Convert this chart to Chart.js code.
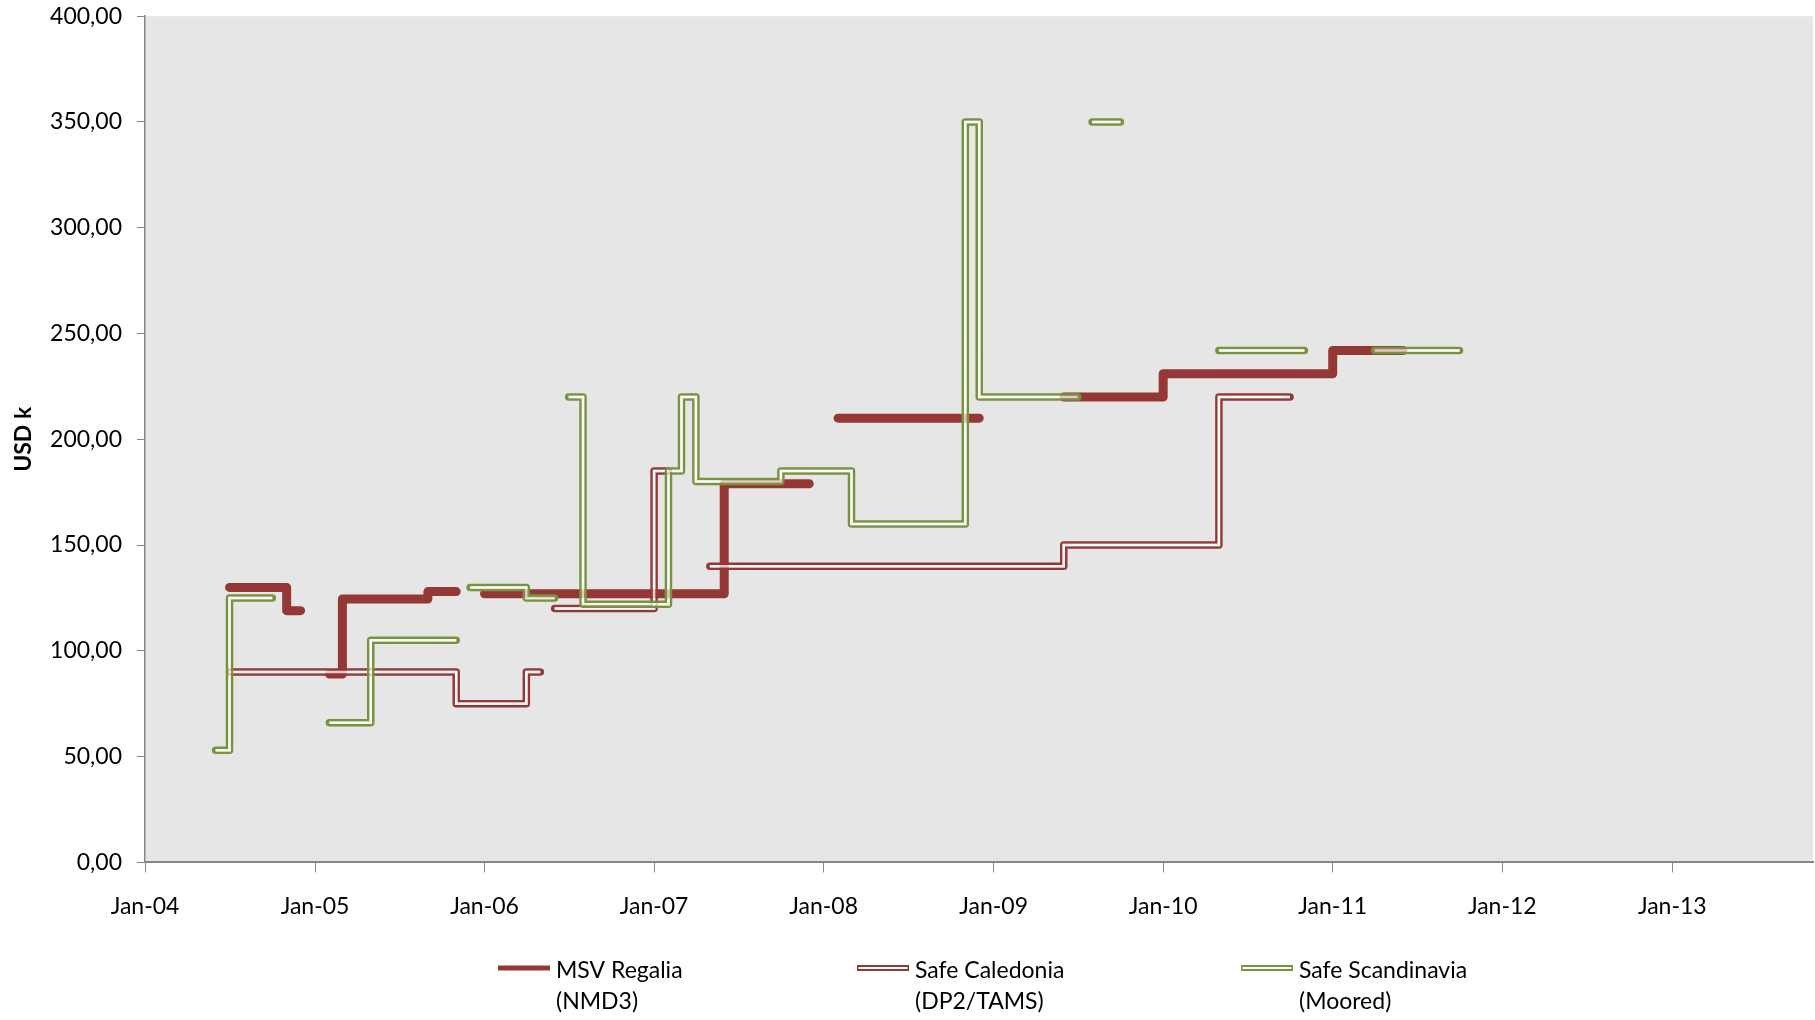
<!DOCTYPE html>
<html>
<head>
<meta charset="utf-8">
<title>Day rates</title>
<script src="https://cdn.jsdelivr.net/npm/chart.js@4.4.1/dist/chart.umd.min.js"></script>
<style>
  html, body { margin: 0; padding: 0; background: #ffffff; }
  canvas { display: block; }
</style>
</head>
<body>
<canvas id="chart" width="1815" height="1020"></canvas>
<script>
// Day rates per vessel (USD k). Each value holds until the next date; null breaks the line.
const seriesNames = [
  ['MSV Regalia', '(NMD3)'],
  ['Safe Caledonia', '(DP2/TAMS)'],
  ['Safe Scandinavia', '(Moored)']
];

const regaliaDates = ['2004-07-01', '2004-11-01', '2004-12-01', '2005-01-01',
  '2005-02-01', '2005-03-01', '2005-09-01', '2005-11-01', '2005-12-01',
  '2006-01-01', '2007-06-01', '2007-12-01', '2008-01-01',
  '2008-02-01', '2008-12-01', '2009-03-01',
  '2009-06-01', '2010-01-01', '2011-01-01', '2011-06-01'];
const regaliaValues = [130, 119, 119, null,
  89, 124.5, 128, 128, null,
  127, 179, 179, null,
  210, 210, null,
  220, 231, 242, 242];

const caledoniaDates = ['2004-07-01', '2005-11-01', '2006-04-01', '2006-05-01', '2006-05-15',
  '2006-06-01', '2007-01-01', '2007-02-01', '2007-03-15',
  '2007-05-01', '2009-06-01', '2010-05-01', '2010-10-01'];
const caledoniaValues = [90, 75, 90, 90, null,
  120, 185, 185, null,
  140, 150, 220, 220];

const scandinaviaDates = ['2004-06-01', '2004-07-01', '2004-10-01', '2004-12-01',
  '2005-02-01', '2005-05-01', '2005-11-01', '2005-11-15',
  '2005-12-01', '2006-04-01', '2006-06-01', '2006-06-15',
  '2006-07-01', '2006-08-01', '2007-02-01', '2007-03-01', '2007-04-01', '2007-10-01',
  '2008-03-01', '2008-11-01', '2008-12-01', '2009-07-01', '2009-07-15',
  '2009-08-01', '2009-10-01', '2010-01-01',
  '2010-05-01', '2010-11-01', '2011-01-01',
  '2011-04-01', '2011-10-01'];
const scandinaviaValues = [53, 125, 125, null,
  66, 105, 105, null,
  130, 125, 125, null,
  220, 122, 185, 220, 180, 185,
  160, 350, 220, 220, null,
  350, 350, null,
  242, 242, null,
  242, 242];

const xTickYears = [2004, 2005, 2006, 2007, 2008, 2009, 2010, 2011, 2012, 2013];
const xRange = ['2004-01-01', '2013-10-31'];
const yRange = [0, 400];
const yStep = 50;

const RED = '#953735';
const GREEN = '#77933C';
const AXIS = '#868686';
const FONT = 'Lato';

function toTime(s) {
  const [y, m, d] = s.split('-').map(Number);
  return Date.UTC(y, m - 1, d || 1);
}
function toPoints(dates, values) {
  return dates.map((d, i) => ({ x: toTime(d), y: values[i] }));
}

const common = { stepped: 'before', pointRadius: 0, pointHoverRadius: 0, spanGaps: false, fill: false };

const datasets = [
  // 0: Safe Scandinavia, outer stroke (on top)
  Object.assign({ label: seriesNames[2].join(' '), data: toPoints(scandinaviaDates, scandinaviaValues),
    borderColor: GREEN, borderWidth: 7.5, borderCapStyle: 'round', borderJoinStyle: 'round',
    order: 1, innerIndex: 1 }, common),
  // 1: Safe Scandinavia, hollow centre
  Object.assign({ label: 'gap', data: toPoints(scandinaviaDates, scandinaviaValues),
    borderColor: '#ffffff', borderWidth: 2.5, borderCapStyle: 'butt', borderJoinStyle: 'miter',
    order: 1, innerOf: 0 }, common),
  // 2: Safe Caledonia, outer stroke
  Object.assign({ label: seriesNames[1].join(' '), data: toPoints(caledoniaDates, caledoniaValues),
    borderColor: RED, borderWidth: 7.5, borderCapStyle: 'round', borderJoinStyle: 'round',
    order: 2, innerIndex: 3 }, common),
  // 3: Safe Caledonia, hollow centre
  Object.assign({ label: 'gap', data: toPoints(caledoniaDates, caledoniaValues),
    borderColor: '#ffffff', borderWidth: 2.5, borderCapStyle: 'butt', borderJoinStyle: 'miter',
    order: 2, innerOf: 2 }, common),
  // 4: MSV Regalia, solid heavy line (bottom)
  Object.assign({ label: seriesNames[0].join(' '), data: toPoints(regaliaDates, regaliaValues),
    borderColor: RED, borderWidth: 9, borderCapStyle: 'round', borderJoinStyle: 'round',
    order: 3 }, common)
];

// Grey plot background
const plotBackground = {
  id: 'plotBackground',
  beforeDraw(chart) {
    const { ctx, chartArea: a } = chart;
    ctx.save();
    ctx.fillStyle = '#E6E6E6';
    ctx.fillRect(a.left, a.top, a.right - a.left, a.bottom - a.top);
    ctx.restore();
  }
};

// Double ("compound") lines: stroke the wide line off-screen, cut out the centre,
// paste it, then glaze the centre with a light, partly see-through stripe
const compoundLines = {
  id: 'compoundLines',
  beforeDatasetDraw(chart, args) {
    const ds = chart.data.datasets[args.index];
    if (ds.innerOf !== undefined) return false;
    if (ds.innerIndex === undefined) return;
    const inner = chart.getDatasetMeta(ds.innerIndex).dataset;
    const off = document.createElement('canvas');
    off.width = chart.canvas.width;
    off.height = chart.canvas.height;
    const octx = off.getContext('2d');
    octx.setTransform(chart.ctx.getTransform());
    args.meta.dataset.draw(octx, chart.chartArea);
    octx.globalCompositeOperation = 'destination-out';
    inner.draw(octx, chart.chartArea);
    const ctx = chart.ctx;
    ctx.save();
    ctx.setTransform(1, 0, 0, 1, 0, 0);
    ctx.drawImage(off, 0, 0);
    ctx.restore();
    ctx.save();
    ctx.globalAlpha = 0.75;
    inner.draw(ctx, chart.chartArea);
    ctx.restore();
    return false;
  }
};

// Legend below the plot with two-line labels
const bottomLegend = {
  id: 'bottomLegend',
  afterDraw(chart) {
    const ctx = chart.ctx;
    const items = [
      { x: 498, color: RED, hollow: false },
      { x: 857, color: RED, hollow: true },
      { x: 1241, color: GREEN, hollow: true }
    ];
    const sampleY = 968, sampleLen = 52;
    ctx.save();
    items.forEach((it, i) => {
      ctx.lineCap = 'butt';
      ctx.beginPath();
      ctx.moveTo(it.x, sampleY);
      ctx.lineTo(it.x + sampleLen, sampleY);
      ctx.strokeStyle = it.color;
      ctx.lineWidth = it.hollow ? 6 : 5;
      ctx.stroke();
      if (it.hollow) {
        ctx.beginPath();
        ctx.moveTo(it.x + 1.5, sampleY);
        ctx.lineTo(it.x + sampleLen - 1.5, sampleY);
        ctx.strokeStyle = '#ffffff';
        ctx.lineWidth = 2;
        ctx.stroke();
      }
      ctx.fillStyle = '#000';
      ctx.font = '23px ' + FONT;
      ctx.textBaseline = 'middle';
      ctx.textAlign = 'left';
      seriesNames[i].forEach((line, k) => ctx.fillText(line, it.x + 58, 971 + k * 31));
    });
    ctx.restore();
  }
};

new Chart(document.getElementById('chart'), {
  type: 'line',
  data: { datasets },
  plugins: [plotBackground, compoundLines, bottomLegend],
  options: {
    responsive: false,
    animation: false,
    devicePixelRatio: 1,
    layout: { padding: { top: 16.2, right: 2, bottom: 0, left: 0 } },
    plugins: { legend: { display: false }, tooltip: { enabled: false } },
    events: [],
    scales: {
      x: {
        type: 'linear',
        min: toTime(xRange[0]),
        max: toTime(xRange[1]),
        afterBuildTicks(scale) {
          scale.ticks = xTickYears.map(y => ({ value: Date.UTC(y, 0, 1) }));
        },
        afterFit(scale) { scale.height = 157.6; },
        ticks: {
          autoSkip: false, maxRotation: 0, minRotation: 0, padding: 20,
          color: '#000', font: { family: FONT, size: 23 },
          callback: v => 'Jan-' + String(new Date(v).getUTCFullYear()).slice(2)
        },
        grid: { display: true, drawOnChartArea: false, drawTicks: true, tickLength: 10, color: AXIS, lineWidth: 1 },
        border: { display: true, color: AXIS, width: 2 }
      },
      y: {
        min: yRange[0],
        max: yRange[1],
        afterFit(scale) {
          scale.width = 145;
          scale.paddingTop = 0;
          scale.paddingBottom = 0;
        },
        ticks: {
          stepSize: yStep, padding: 15,
          color: '#000', font: { family: FONT, size: 23 },
          callback: v => v.toFixed(2).replace('.', ',')
        },
        grid: { display: true, drawOnChartArea: false, drawTicks: true, tickLength: 8, color: AXIS, lineWidth: 1 },
        border: { display: true, color: AXIS, width: 1.5 },
        title: {
          display: true, text: 'USD k', color: '#000',
          font: { family: FONT, size: 23, weight: 'bold' },
          padding: { top: 10, bottom: 0 }
        }
      }
    }
  }
});
</script>
</body>
</html>
